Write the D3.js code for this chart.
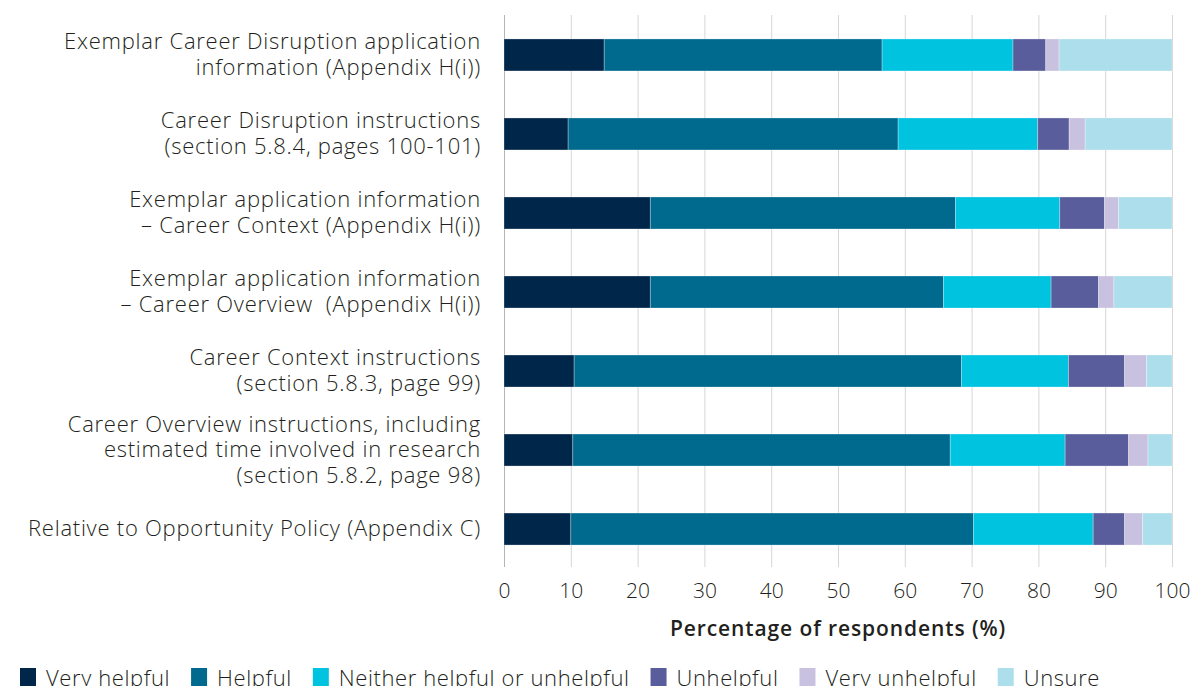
<!DOCTYPE html>
<html>
<head>
<meta charset="utf-8">
<script src="https://cdn.jsdelivr.net/npm/d3@7"></script>
<style>
  body { margin: 0; background: #fff; }
  svg text { font-family: "Open Sans", "Noto Sans", sans-serif; fill: #231f20; white-space: pre; }
</style>
</head>
<body>
<svg id="chart" width="1195" height="686"></svg>
<script>
// questions, top to bottom (each line of the label is one entry)
var questions = [
  ["Exemplar Career Disruption application", "information (Appendix H(i))"],
  ["Career Disruption instructions", "(section 5.8.4, pages 100-101)"],
  ["Exemplar application information", "\u2013 Career Context (Appendix H(i))"],
  ["Exemplar application information", "\u2013 Career Overview  (Appendix H(i))"],
  ["Career Context instructions", "(section 5.8.3, page 99)"],
  ["Career Overview instructions, including", "estimated time involved in research", "(section 5.8.2, page 98)"],
  ["Relative to Opportunity Policy (Appendix C)"]
];

var responses = ["Very helpful", "Helpful", "Neither helpful or unhelpful", "Unhelpful", "Very unhelpful", "Unsure"];
var colors = ["#00264a", "#006a8e", "#00c3e0", "#5a5d9b", "#c8c1df", "#acdeeb"];

// percentages per question, same order as questions
var veryHelpful   = [15.0,  9.6, 21.9, 21.9, 10.5, 10.3, 10.0];
var helpful       = [41.6, 49.4, 45.7, 43.9, 58.0, 56.5, 60.3];
var neither       = [19.6, 20.9, 15.6, 16.1, 16.0, 17.2, 17.9];
var unhelpful     = [ 4.9,  4.7,  6.7,  7.1,  8.4,  9.5,  4.7];
var veryUnhelpful = [ 2.0,  2.4,  2.1,  2.3,  3.3,  2.9,  2.7];
var unsure        = [16.9, 13.0,  8.0,  8.7,  3.8,  3.6,  4.4];

var xTicks = [0, 10, 20, 30, 40, 50, 60, 70, 80, 90, 100];

var series = [veryHelpful, helpful, neither, unhelpful, veryUnhelpful, unsure];

var rows = questions.map(function (q, i) {
  var r = { idx: i };
  responses.forEach(function (name, k) { r[name] = series[k][i]; });
  return r;
});

var svg = d3.select("#chart");
var plotLeft = 504, plotRight = 1172, plotTop = 15, plotBottom = 567;

var x = d3.scaleLinear().domain([0, 100]).range([plotLeft, plotRight]);
var y = d3.scaleBand().domain(d3.range(questions.length))
  .range([20, 564]).paddingInner(0.595).paddingOuter(0.24);

// grid
svg.append("g")
  .selectAll("line")
  .data(xTicks)
  .enter()
  .append("line")
  .attr("x1", function (d) { return x(d) + 0.5; })
  .attr("x2", function (d) { return x(d) + 0.5; })
  .attr("y1", plotTop)
  .attr("y2", plotBottom)
  .style("stroke", function (d) { return d === 0 ? "#b5b5b5" : "#d6d6d6"; })
  .style("stroke-width", 1);

var stacked = d3.stack().keys(responses)(rows);

svg.append("g")
  .selectAll("g")
  .data(stacked)
  .enter()
  .append("g")
  .style("fill", function (d, i) { return colors[i]; })
  .selectAll("rect")
  .data(function (d) { return d; })
  .enter()
  .append("rect")
  .attr("x", function (d) { return x(d[0]); })
  .attr("y", function (d) { return y(d.data.idx); })
  .attr("width", function (d) { return x(d[1]) - x(d[0]); })
  .attr("height", y.bandwidth())
  .style("stroke", "rgba(255,255,255,0.35)")
  .style("stroke-width", 0.8);

// category labels
var lineH = 25.5;
var labels = svg.append("g")
  .selectAll("text")
  .data(questions)
  .enter()
  .append("text")
  .attr("text-anchor", "end")
  .style("font-size", "22px")
  .style("font-weight", 300)
  .style("letter-spacing", "0.75px")
  .attr("transform", function (d, i) {
    var cy = y(i) + y.bandwidth() / 2;
    return "translate(481," + (cy - (d.length - 1) * lineH / 2 + 7) + ")";
  });
labels.selectAll("tspan")
  .data(function (d) { return d; })
  .enter()
  .append("tspan")
  .attr("x", 0)
  .attr("dy", function (d, i) { return i === 0 ? 0 : lineH; })
  .text(function (d) { return d; });

// x axis
var xAxis = d3.axisBottom(x).tickValues(xTicks).tickSize(0).tickPadding(0);
var ax = svg.append("g")
  .attr("transform", "translate(0,583)")
  .call(xAxis);
ax.select(".domain").remove();
ax.selectAll("text")
  .style("font-size", "21px")
  .style("font-weight", 300)
  .style("font-family", "'Open Sans', sans-serif")
  .style("fill", "#231f20");

svg.append("text")
  .attr("x", x(50))
  .attr("y", 636)
  .attr("text-anchor", "middle")
  .style("font-size", "21px")
  .style("font-weight", 600)
  .style("letter-spacing", "0.9px")
  .text("Percentage of respondents (%)");

// legend
var legend = svg.append("g").attr("transform", "translate(20,668)");
var lx = 0;
responses.forEach(function (name, i) {
  var item = legend.append("g").attr("transform", "translate(" + lx + ",0)");
  item.append("rect")
    .attr("width", 16)
    .attr("height", 20)
    .style("fill", colors[i]);
  var t = item.append("text")
    .attr("x", 26)
    .attr("y", 18)
    .style("font-size", "22px")
    .style("font-weight", 300)
    .style("letter-spacing", "0.6px")
    .text(name);
  lx += 26 + t.node().getComputedTextLength() + 21;
});
</script>
</body>
</html>
